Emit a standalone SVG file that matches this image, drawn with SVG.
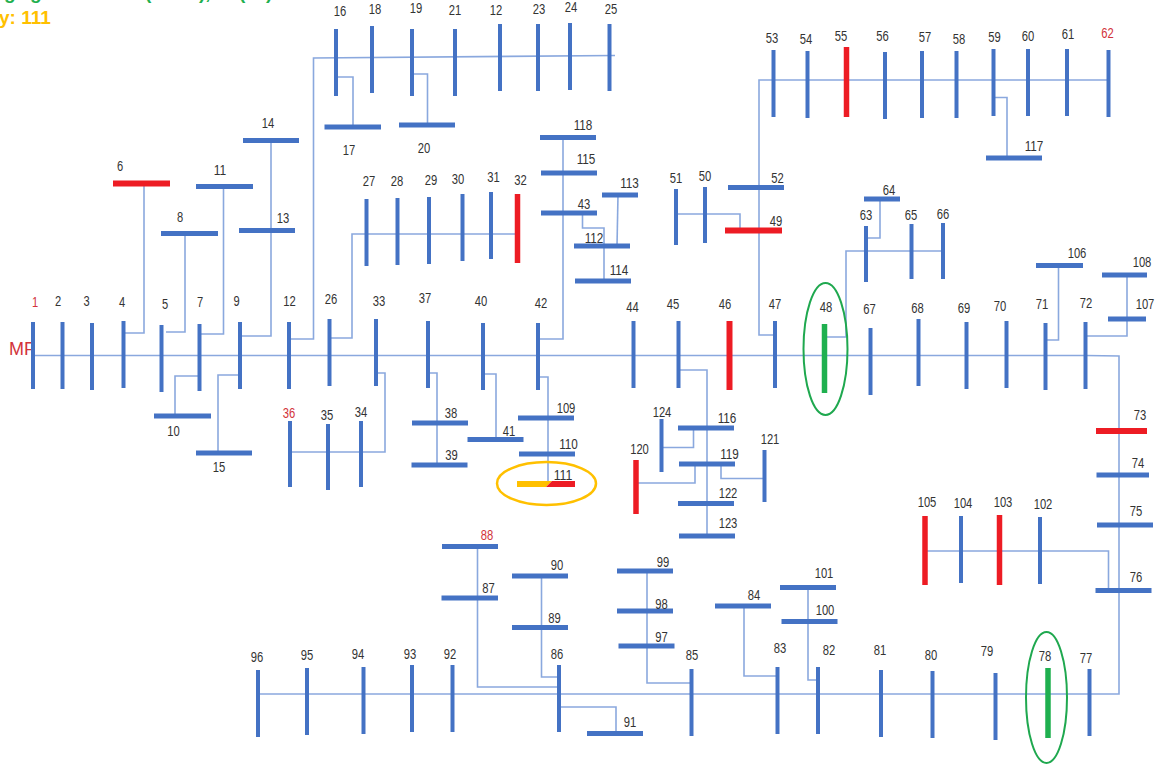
<svg xmlns="http://www.w3.org/2000/svg" width="1160" height="764" viewBox="0 0 1160 764">
<style>
.c{fill:none;stroke:#8aa8de;stroke-width:1.6}
.v{fill:none;stroke:#4472c4;stroke-width:4}
.h{fill:none;stroke:#4472c4;stroke-width:5}
.rv{fill:none;stroke:#ed1c24;stroke-width:5.5}
.rh{fill:none;stroke:#ed1c24;stroke-width:6}
.gv{fill:none;stroke:#1fb04f;stroke-width:5.5}
text{font-family:"Liberation Sans",sans-serif;font-size:14px;fill:#333;text-anchor:middle}
text.r{fill:#d2333a}
text.k{font-weight:bold;font-size:19px;text-anchor:start}
text.mf{font-size:18px;fill:#d2333a;text-anchor:start}
</style>
<g id="legend">
<text class="k" style="fill:#1fb04f" x="4" y="-1">g</text>
<text class="k" style="fill:#1fb04f" x="30" y="-1">g</text>
<text class="k" style="fill:#1fb04f" x="145" y="-1">(</text>
<text class="k" style="fill:#1fb04f" x="199" y="-1">),</text>
<text class="k" style="fill:#1fb04f" x="239" y="-1">(</text>
<text class="k" style="fill:#1fb04f" x="266" y="-1">)</text>
<text class="k" style="fill:#ffc000" x="-1" y="24">y: 111</text>
<text class="mf" x="9" y="355">MF</text>
</g>
<g id="connectors">
<path class="c" d="M33 355.500H1086L1119 356V694H258"/>
<path class="c" d="M124 333H144V183"/>
<path class="c" d="M166 332H185V233"/>
<path class="c" d="M200 334H223.500V186"/>
<path class="c" d="M240 336H271V140"/>
<path class="c" d="M289 339H313.500V58L615 55.500"/>
<path class="c" d="M330 338H352V234H519"/>
<path class="c" d="M199 376H175V416"/>
<path class="c" d="M240 375H218V453"/>
<path class="c" d="M376 373H385V452H290"/>
<path class="c" d="M336 77H353V127"/>
<path class="c" d="M412 74H427.500V125"/>
<path class="c" d="M538 339H563V137"/>
<path class="c" d="M582.500 213V228H604V281"/>
<path class="c" d="M618 195L617 246"/>
<path class="c" d="M676 214H740V230"/>
<path class="c" d="M775 335H759V80H1108"/>
<path class="c" d="M428 373H437V465"/>
<path class="c" d="M483 374H496V439"/>
<path class="c" d="M538 377H548V483"/>
<path class="c" d="M678 370H707V536"/>
<path class="c" d="M661 447.500H693.500V428"/>
<path class="c" d="M636 483H695V464"/>
<path class="c" d="M721 464V478.500H764"/>
<path class="c" d="M477.500 546V687H559"/>
<path class="c" d="M541.500 576V677H559"/>
<path class="c" d="M647 571V683H691"/>
<path class="c" d="M559 707H616V733"/>
<path class="c" d="M744 606V676H777"/>
<path class="c" d="M808 587V680H818"/>
<path class="c" d="M925 551H1108.500V590"/>
<path class="c" d="M825 337H846V251H944"/>
<path class="c" d="M866 238H880V199"/>
<path class="c" d="M1046 340H1058.500V265"/>
<path class="c" d="M1086 336H1127V275"/>
<path class="c" d="M994 97.500H1007V158"/>
</g>
<g id="n1"><path class="v" d="M33 322V389"/><text class="r" x="35" y="307" textLength="6.2" lengthAdjust="spacingAndGlyphs">1</text></g>
<g id="n2"><path class="v" d="M62.500 322V389"/><text x="58" y="306" textLength="6.2" lengthAdjust="spacingAndGlyphs">2</text></g>
<g id="n3"><path class="v" d="M92 323V390"/><text x="86.500" y="306" textLength="6.2" lengthAdjust="spacingAndGlyphs">3</text></g>
<g id="n4"><path class="v" d="M123.500 321V388"/><text x="122" y="307" textLength="6.2" lengthAdjust="spacingAndGlyphs">4</text></g>
<g id="n5"><path class="v" d="M161.500 325V392"/><text x="165" y="309" textLength="6.2" lengthAdjust="spacingAndGlyphs">5</text></g>
<g id="n6"><path class="rh" d="M113 183.500H170"/><text x="120" y="171" textLength="6.2" lengthAdjust="spacingAndGlyphs">6</text></g>
<g id="n7"><path class="v" d="M199.500 324V391"/><text x="200" y="307" textLength="6.2" lengthAdjust="spacingAndGlyphs">7</text></g>
<g id="n8"><path class="h" d="M161 233.500H218"/><text x="180" y="222" textLength="6.2" lengthAdjust="spacingAndGlyphs">8</text></g>
<g id="n9"><path class="v" d="M240 322V389"/><text x="236.500" y="306" textLength="6.2" lengthAdjust="spacingAndGlyphs">9</text></g>
<g id="n10"><path class="h" d="M154 416H211"/><text x="173.500" y="436" textLength="12.500" lengthAdjust="spacingAndGlyphs">10</text></g>
<g id="n11"><path class="h" d="M196 186.500H253"/><text x="220" y="175" textLength="12.500" lengthAdjust="spacingAndGlyphs">11</text></g>
<g id="n12"><path class="v" d="M289 322V389"/><text x="289.500" y="306" textLength="12.500" lengthAdjust="spacingAndGlyphs">12</text></g>
<g id="n13"><path class="h" d="M239 230.500H295"/><text x="283" y="223" textLength="12.500" lengthAdjust="spacingAndGlyphs">13</text></g>
<g id="n14"><path class="h" d="M243 140.500H299"/><text x="268" y="128" textLength="12.500" lengthAdjust="spacingAndGlyphs">14</text></g>
<g id="n15"><path class="h" d="M196 453H252"/><text x="219" y="472" textLength="12.500" lengthAdjust="spacingAndGlyphs">15</text></g>
<g id="n16"><path class="v" d="M336 29V96"/><text x="340" y="16" textLength="12.500" lengthAdjust="spacingAndGlyphs">16</text></g>
<g id="n17"><path class="h" d="M324.500 127H381"/><text x="349" y="155" textLength="12.500" lengthAdjust="spacingAndGlyphs">17</text></g>
<g id="n18"><path class="v" d="M372 26V93"/><text x="375" y="14" textLength="12.500" lengthAdjust="spacingAndGlyphs">18</text></g>
<g id="n19"><path class="v" d="M412 29V96"/><text x="416" y="13" textLength="12.500" lengthAdjust="spacingAndGlyphs">19</text></g>
<g id="n20"><path class="h" d="M399 125H455"/><text x="424" y="153" textLength="12.500" lengthAdjust="spacingAndGlyphs">20</text></g>
<g id="n21"><path class="v" d="M455 29V96"/><text x="455" y="15" textLength="12.500" lengthAdjust="spacingAndGlyphs">21</text></g>
<g id="n12b"><path class="v" d="M500 24V91"/><text x="496" y="15" textLength="12.500" lengthAdjust="spacingAndGlyphs">12</text></g>
<g id="n23"><path class="v" d="M538 24V91"/><text x="539" y="14" textLength="12.500" lengthAdjust="spacingAndGlyphs">23</text></g>
<g id="n24"><path class="v" d="M570 23V90"/><text x="571" y="12" textLength="12.500" lengthAdjust="spacingAndGlyphs">24</text></g>
<g id="n25"><path class="v" d="M609.500 24V91"/><text x="611" y="14" textLength="12.500" lengthAdjust="spacingAndGlyphs">25</text></g>
<g id="n26"><path class="v" d="M329.500 319V386"/><text x="331" y="304" textLength="12.500" lengthAdjust="spacingAndGlyphs">26</text></g>
<g id="n27"><path class="v" d="M366.500 199V266"/><text x="369" y="186" textLength="12.500" lengthAdjust="spacingAndGlyphs">27</text></g>
<g id="n28"><path class="v" d="M397.500 198V265"/><text x="397" y="186" textLength="12.500" lengthAdjust="spacingAndGlyphs">28</text></g>
<g id="n29"><path class="v" d="M429 197V264"/><text x="431" y="185" textLength="12.500" lengthAdjust="spacingAndGlyphs">29</text></g>
<g id="n30"><path class="v" d="M462.500 194V261"/><text x="458" y="184" textLength="12.500" lengthAdjust="spacingAndGlyphs">30</text></g>
<g id="n31"><path class="v" d="M491 192V259"/><text x="493.500" y="182" textLength="12.500" lengthAdjust="spacingAndGlyphs">31</text></g>
<g id="n32"><path class="rv" d="M517.500 194V263"/><text x="520.500" y="185" textLength="12.500" lengthAdjust="spacingAndGlyphs">32</text></g>
<g id="n33"><path class="v" d="M376 319V386"/><text x="379" y="306" textLength="12.500" lengthAdjust="spacingAndGlyphs">33</text></g>
<g id="n34"><path class="v" d="M361 421V487"/><text x="361" y="417" textLength="12.500" lengthAdjust="spacingAndGlyphs">34</text></g>
<g id="n35"><path class="v" d="M328 424V490"/><text x="327" y="420" textLength="12.500" lengthAdjust="spacingAndGlyphs">35</text></g>
<g id="n36"><path class="v" d="M290 421V487"/><text class="r" x="289" y="418" textLength="12.500" lengthAdjust="spacingAndGlyphs">36</text></g>
<g id="n37"><path class="v" d="M428 321V388"/><text x="425" y="303" textLength="12.500" lengthAdjust="spacingAndGlyphs">37</text></g>
<g id="n38"><path class="h" d="M412 423H468"/><text x="451" y="418" textLength="12.500" lengthAdjust="spacingAndGlyphs">38</text></g>
<g id="n39"><path class="h" d="M411.500 465H467.500"/><text x="451.500" y="460" textLength="12.500" lengthAdjust="spacingAndGlyphs">39</text></g>
<g id="n40"><path class="v" d="M483 323V390"/><text x="481" y="306" textLength="12.500" lengthAdjust="spacingAndGlyphs">40</text></g>
<g id="n41"><path class="h" d="M467.500 439.500H523.500"/><text x="509" y="436" textLength="12.500" lengthAdjust="spacingAndGlyphs">41</text></g>
<g id="n42"><path class="v" d="M538 323V390"/><text x="541" y="308" textLength="12.500" lengthAdjust="spacingAndGlyphs">42</text></g>
<g id="n43"><path class="h" d="M541 213H597"/><text x="584" y="209" textLength="12.500" lengthAdjust="spacingAndGlyphs">43</text></g>
<g id="n44"><path class="v" d="M633.500 321V388"/><text x="632.500" y="312" textLength="12.500" lengthAdjust="spacingAndGlyphs">44</text></g>
<g id="n45"><path class="v" d="M678.500 321V388"/><text x="673" y="309" textLength="12.500" lengthAdjust="spacingAndGlyphs">45</text></g>
<g id="n46"><path class="rh" d="M729.500 321V390"/><text x="725" y="309" textLength="12.500" lengthAdjust="spacingAndGlyphs">46</text></g>
<g id="n47"><path class="v" d="M775 321V388"/><text x="775" y="309" textLength="12.500" lengthAdjust="spacingAndGlyphs">47</text></g>
<g id="n48"><ellipse cx="825.500" cy="349" rx="22" ry="66" fill="none" stroke="#1fa84f" stroke-width="2"/><path class="gv" d="M824.500 324V393"/><text x="826" y="312" textLength="12.500" lengthAdjust="spacingAndGlyphs">48</text></g>
<g id="n49"><path class="rh" d="M725 230.500H782"/><text x="776" y="226" textLength="12.500" lengthAdjust="spacingAndGlyphs">49</text></g>
<g id="n50"><path class="v" d="M705 187V243"/><text x="705" y="181" textLength="12.500" lengthAdjust="spacingAndGlyphs">50</text></g>
<g id="n51"><path class="v" d="M676 189V245"/><text x="676" y="183" textLength="12.500" lengthAdjust="spacingAndGlyphs">51</text></g>
<g id="n52"><path class="h" d="M728 187.500H784"/><text x="777.500" y="183" textLength="12.500" lengthAdjust="spacingAndGlyphs">52</text></g>
<g id="n53"><path class="v" d="M773.500 50V117"/><text x="772" y="43" textLength="12.500" lengthAdjust="spacingAndGlyphs">53</text></g>
<g id="n54"><path class="v" d="M807.500 51V118"/><text x="806" y="44" textLength="12.500" lengthAdjust="spacingAndGlyphs">54</text></g>
<g id="n55"><path class="rv" d="M846.500 47V117"/><text x="841" y="41" textLength="12.500" lengthAdjust="spacingAndGlyphs">55</text></g>
<g id="n56"><path class="v" d="M885 52V119"/><text x="882.500" y="41" textLength="12.500" lengthAdjust="spacingAndGlyphs">56</text></g>
<g id="n57"><path class="v" d="M922 51V118"/><text x="925" y="42" textLength="12.500" lengthAdjust="spacingAndGlyphs">57</text></g>
<g id="n58"><path class="v" d="M956.500 51V118"/><text x="959" y="44" textLength="12.500" lengthAdjust="spacingAndGlyphs">58</text></g>
<g id="n59"><path class="v" d="M993.500 49V116"/><text x="994.500" y="42" textLength="12.500" lengthAdjust="spacingAndGlyphs">59</text></g>
<g id="n60"><path class="v" d="M1028 49V116"/><text x="1028" y="41" textLength="12.500" lengthAdjust="spacingAndGlyphs">60</text></g>
<g id="n61"><path class="v" d="M1067 49V116"/><text x="1068" y="39" textLength="12.500" lengthAdjust="spacingAndGlyphs">61</text></g>
<g id="n62"><path class="v" d="M1108.500 50V117"/><text class="r" x="1107.500" y="38" textLength="12.500" lengthAdjust="spacingAndGlyphs">62</text></g>
<g id="n63"><path class="v" d="M866 226V282"/><text x="866" y="220" textLength="12.500" lengthAdjust="spacingAndGlyphs">63</text></g>
<g id="n64"><path class="h" d="M864 199H900"/><text x="889" y="195" textLength="12.500" lengthAdjust="spacingAndGlyphs">64</text></g>
<g id="n65"><path class="v" d="M911.500 224V279"/><text x="911" y="220" textLength="12.500" lengthAdjust="spacingAndGlyphs">65</text></g>
<g id="n66"><path class="v" d="M943 223V279"/><text x="943" y="219" textLength="12.500" lengthAdjust="spacingAndGlyphs">66</text></g>
<g id="n67"><path class="v" d="M870.500 328V395"/><text x="869.500" y="314" textLength="12.500" lengthAdjust="spacingAndGlyphs">67</text></g>
<g id="n68"><path class="v" d="M918.500 319V386"/><text x="917.500" y="313" textLength="12.500" lengthAdjust="spacingAndGlyphs">68</text></g>
<g id="n69"><path class="v" d="M966.500 322V389"/><text x="964" y="313" textLength="12.500" lengthAdjust="spacingAndGlyphs">69</text></g>
<g id="n70"><path class="v" d="M1006.500 321V388"/><text x="1000" y="311" textLength="12.500" lengthAdjust="spacingAndGlyphs">70</text></g>
<g id="n71"><path class="v" d="M1045.500 323V390"/><text x="1042" y="309" textLength="12.500" lengthAdjust="spacingAndGlyphs">71</text></g>
<g id="n72"><path class="v" d="M1085.500 322V389"/><text x="1086" y="308" textLength="12.500" lengthAdjust="spacingAndGlyphs">72</text></g>
<g id="n73"><path class="rh" d="M1096 431H1147"/><text x="1140" y="420" textLength="12.500" lengthAdjust="spacingAndGlyphs">73</text></g>
<g id="n74"><path class="h" d="M1096.500 475H1149"/><text x="1138" y="468" textLength="12.500" lengthAdjust="spacingAndGlyphs">74</text></g>
<g id="n75"><path class="h" d="M1097 525H1153"/><text x="1136" y="516" textLength="12.500" lengthAdjust="spacingAndGlyphs">75</text></g>
<g id="n76"><path class="h" d="M1095.500 590.500H1151.500"/><text x="1136" y="582" textLength="12.500" lengthAdjust="spacingAndGlyphs">76</text></g>
<g id="n77"><path class="v" d="M1089.500 669V736"/><text x="1086" y="663" textLength="12.500" lengthAdjust="spacingAndGlyphs">77</text></g>
<g id="n78"><ellipse cx="1046.500" cy="697.500" rx="20.500" ry="65.500" fill="none" stroke="#1fa84f" stroke-width="2"/><path class="gv" d="M1048 668V738"/><text x="1045" y="661" textLength="12.500" lengthAdjust="spacingAndGlyphs">78</text></g>
<g id="n79"><path class="v" d="M995.500 673V740"/><text x="987" y="656" textLength="12.500" lengthAdjust="spacingAndGlyphs">79</text></g>
<g id="n80"><path class="v" d="M932.500 671V738"/><text x="931" y="660" textLength="12.500" lengthAdjust="spacingAndGlyphs">80</text></g>
<g id="n81"><path class="v" d="M881 670V737"/><text x="880" y="655" textLength="12.500" lengthAdjust="spacingAndGlyphs">81</text></g>
<g id="n82"><path class="v" d="M818 667V734"/><text x="829" y="655" textLength="12.500" lengthAdjust="spacingAndGlyphs">82</text></g>
<g id="n83"><path class="v" d="M777.500 667V734"/><text x="780" y="653" textLength="12.500" lengthAdjust="spacingAndGlyphs">83</text></g>
<g id="n84"><path class="h" d="M715 606H771"/><text x="754" y="600" textLength="12.500" lengthAdjust="spacingAndGlyphs">84</text></g>
<g id="n85"><path class="v" d="M691.500 669V736"/><text x="692" y="660" textLength="12.500" lengthAdjust="spacingAndGlyphs">85</text></g>
<g id="n86"><path class="v" d="M559 665V732"/><text x="557" y="659" textLength="12.500" lengthAdjust="spacingAndGlyphs">86</text></g>
<g id="n87"><path class="h" d="M441.500 598H498"/><text x="488.500" y="593" textLength="12.500" lengthAdjust="spacingAndGlyphs">87</text></g>
<g id="n88"><path class="h" d="M442 546.500H498"/><text class="r" x="487" y="540" textLength="12.500" lengthAdjust="spacingAndGlyphs">88</text></g>
<g id="n89"><path class="h" d="M512 627.500H568"/><text x="554.500" y="623" textLength="12.500" lengthAdjust="spacingAndGlyphs">89</text></g>
<g id="n90"><path class="h" d="M512 576H568"/><text x="557" y="570" textLength="12.500" lengthAdjust="spacingAndGlyphs">90</text></g>
<g id="n91"><path class="h" d="M587 733.500H643"/><text x="630" y="727" textLength="12.500" lengthAdjust="spacingAndGlyphs">91</text></g>
<g id="n92"><path class="v" d="M452.500 665V732"/><text x="450" y="659" textLength="12.500" lengthAdjust="spacingAndGlyphs">92</text></g>
<g id="n93"><path class="v" d="M412 665V732"/><text x="410" y="659" textLength="12.500" lengthAdjust="spacingAndGlyphs">93</text></g>
<g id="n94"><path class="v" d="M363.500 667V734"/><text x="358" y="659" textLength="12.500" lengthAdjust="spacingAndGlyphs">94</text></g>
<g id="n95"><path class="v" d="M307 668V735"/><text x="307" y="660" textLength="12.500" lengthAdjust="spacingAndGlyphs">95</text></g>
<g id="n96"><path class="v" d="M258 670V737"/><text x="257" y="662" textLength="12.500" lengthAdjust="spacingAndGlyphs">96</text></g>
<g id="n97"><path class="h" d="M618.500 646H674.500"/><text x="661.500" y="642" textLength="12.500" lengthAdjust="spacingAndGlyphs">97</text></g>
<g id="n98"><path class="h" d="M617 611H673"/><text x="661.500" y="609" textLength="12.500" lengthAdjust="spacingAndGlyphs">98</text></g>
<g id="n99"><path class="h" d="M617 571H673"/><text x="663" y="567" textLength="12.500" lengthAdjust="spacingAndGlyphs">99</text></g>
<g id="n100"><path class="h" d="M781.500 621.500H837.500"/><text x="825" y="615" textLength="18.700" lengthAdjust="spacingAndGlyphs">100</text></g>
<g id="n101"><path class="h" d="M780 587.500H836"/><text x="824" y="578" textLength="18.700" lengthAdjust="spacingAndGlyphs">101</text></g>
<g id="n102"><path class="v" d="M1040 517V584"/><text x="1043" y="509" textLength="18.700" lengthAdjust="spacingAndGlyphs">102</text></g>
<g id="n103"><path class="rv" d="M999.500 515V585"/><text x="1003" y="507" textLength="18.700" lengthAdjust="spacingAndGlyphs">103</text></g>
<g id="n104"><path class="v" d="M961 516V583"/><text x="963" y="508" textLength="18.700" lengthAdjust="spacingAndGlyphs">104</text></g>
<g id="n105"><path class="rv" d="M925 516V585"/><text x="927" y="507" textLength="18.700" lengthAdjust="spacingAndGlyphs">105</text></g>
<g id="n106"><path class="h" d="M1036 265.500H1083"/><text x="1077" y="258" textLength="18.700" lengthAdjust="spacingAndGlyphs">106</text></g>
<g id="n107"><path class="h" d="M1108 319H1146"/><text x="1145" y="309" textLength="18.700" lengthAdjust="spacingAndGlyphs">107</text></g>
<g id="n108"><path class="h" d="M1102 275H1147"/><text x="1142" y="267" textLength="18.700" lengthAdjust="spacingAndGlyphs">108</text></g>
<g id="n109"><path class="h" d="M518 418H574"/><text x="566" y="413" textLength="18.700" lengthAdjust="spacingAndGlyphs">109</text></g>
<g id="n110"><path class="h" d="M519 454H575"/><text x="568.500" y="449" textLength="18.700" lengthAdjust="spacingAndGlyphs">110</text></g>
<g id="n111"><ellipse cx="546.500" cy="483.500" rx="49.500" ry="21.500" fill="none" stroke="#ffc000" stroke-width="2.500"/><path fill="#ffc000" d="M517 481H552L546 487H517Z"/><path fill="#ed1c24" d="M552 481H575V487H546Z"/><text x="563" y="480" textLength="18.700" lengthAdjust="spacingAndGlyphs">111</text></g>
<g id="n112"><path class="h" d="M574 246H630"/><text x="594" y="243" textLength="18.700" lengthAdjust="spacingAndGlyphs">112</text></g>
<g id="n113"><path class="h" d="M602 195H638"/><text x="629.500" y="188" textLength="18.700" lengthAdjust="spacingAndGlyphs">113</text></g>
<g id="n114"><path class="h" d="M575 281H631"/><text x="619" y="275" textLength="18.700" lengthAdjust="spacingAndGlyphs">114</text></g>
<g id="n115"><path class="h" d="M541 173H597"/><text x="586" y="164" textLength="18.700" lengthAdjust="spacingAndGlyphs">115</text></g>
<g id="n116"><path class="h" d="M678 428H734"/><text x="727" y="423" textLength="18.700" lengthAdjust="spacingAndGlyphs">116</text></g>
<g id="n117"><path class="h" d="M986 158H1042"/><text x="1034" y="151" textLength="18.700" lengthAdjust="spacingAndGlyphs">117</text></g>
<g id="n118"><path class="h" d="M540 137.500H596"/><text x="583" y="130" textLength="18.700" lengthAdjust="spacingAndGlyphs">118</text></g>
<g id="n119"><path class="h" d="M679 464H735"/><text x="729.500" y="459" textLength="18.700" lengthAdjust="spacingAndGlyphs">119</text></g>
<g id="n120"><path class="rv" d="M636 460V514"/><text x="639.500" y="454" textLength="18.700" lengthAdjust="spacingAndGlyphs">120</text></g>
<g id="n121"><path class="v" d="M764.500 450V502"/><text x="770" y="444" textLength="18.700" lengthAdjust="spacingAndGlyphs">121</text></g>
<g id="n122"><path class="h" d="M678 503.500H734"/><text x="728" y="498" textLength="18.700" lengthAdjust="spacingAndGlyphs">122</text></g>
<g id="n123"><path class="h" d="M679 536H735"/><text x="728" y="528" textLength="18.700" lengthAdjust="spacingAndGlyphs">123</text></g>
<g id="n124"><path class="v" d="M661.500 419V472"/><text x="662" y="417" textLength="18.700" lengthAdjust="spacingAndGlyphs">124</text></g>
</svg>
